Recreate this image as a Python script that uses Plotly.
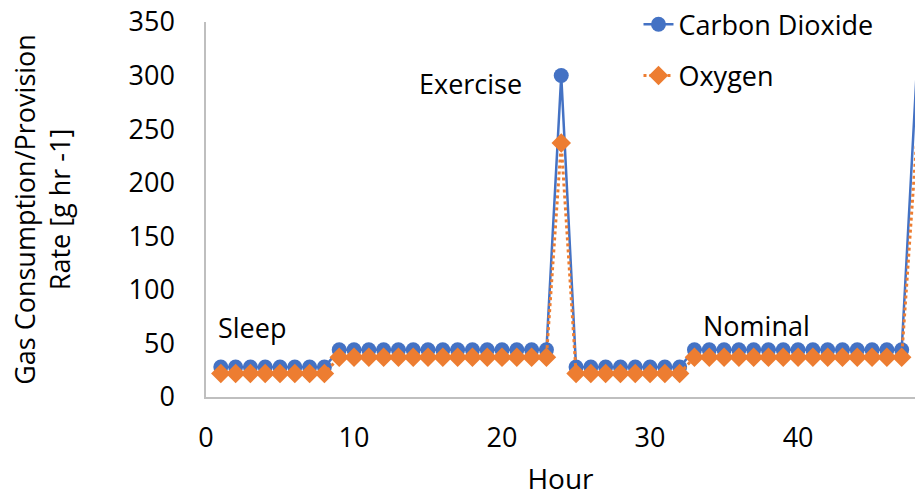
import plotly.graph_objects as go

# hourly profile, 48 hours
hours = list(range(1, 49))
co2 = [28] * 8 + [44] * 15 + [300] + [28] * 8 + [44] * 15 + [300]
o2 = [22] * 8 + [37] * 15 + [237] + [22] * 8 + [37] * 15 + [237]

phase_labels = ["Sleep", "Exercise", "Nominal"]
phase_x = [3.1, 17.9, 37.2]
phase_y = [65, 293, 67]

blue = "#4472C4"
orange = "#ED7D31"
font = "Open Sans, Noto Sans, sans-serif"

fig = go.Figure()

fig.add_trace(go.Scatter(
    x=hours, y=co2, name="Carbon Dioxide", legendgroup="co2",
    mode="lines+markers", cliponaxis=False,
    line=dict(color=blue, width=2.5),
    marker=dict(symbol="circle", size=15, color=blue)))

fig.add_trace(go.Scatter(
    x=hours, y=o2, name="Oxygen", legendgroup="o2",
    mode="lines+markers", cliponaxis=False,
    line=dict(color=orange, width=3, dash="dot"),
    marker=dict(symbol="diamond", size=15, color=orange)))

for txt, xv, yv in zip(phase_labels, phase_x, phase_y):
    fig.add_annotation(x=xv, y=yv, text=txt, showarrow=False,
                       font=dict(size=27, color="#000000"))

fig.update_layout(
    width=915, height=497,
    margin=dict(l=206, r=0, t=20, b=100),
    paper_bgcolor="white", plot_bgcolor="white",
    font=dict(family=font, size=27, color="#000000"),
    showlegend=True,
    legend=dict(x=0.61, y=1.058, xanchor="left", yanchor="top",
                bgcolor="rgba(0,0,0,0)", tracegroupgap=13,
                font=dict(size=27)),
    xaxis=dict(range=[0, 47.9], tickvals=[0, 10, 20, 30, 40],
               showgrid=False, zeroline=False,
               showline=True, linecolor="#BFBFBF", linewidth=1.5,
               ticks="", ticklabelstandoff=16,
               title=dict(text="Hour", standoff=20, font=dict(size=28))),
    yaxis=dict(range=[0, 350], tickvals=list(range(0, 351, 50)),
               showgrid=False, zeroline=False,
               showline=True, linecolor="#BFBFBF", linewidth=1.5,
               ticks="", ticklabelstandoff=24, ticklabeloverflow="allow",
               title=dict(text="Gas Consumption/Provision<br>Rate [g hr -1]",
                          standoff=50, font=dict(size=27))),
)

# drop the default 8px body margin so the figure fills the window
fig.write_html("out.html", config={"displayModeBar": False},
               post_script="document.body.style.margin='0';"
                           "document.body.style.overflow='hidden';")
